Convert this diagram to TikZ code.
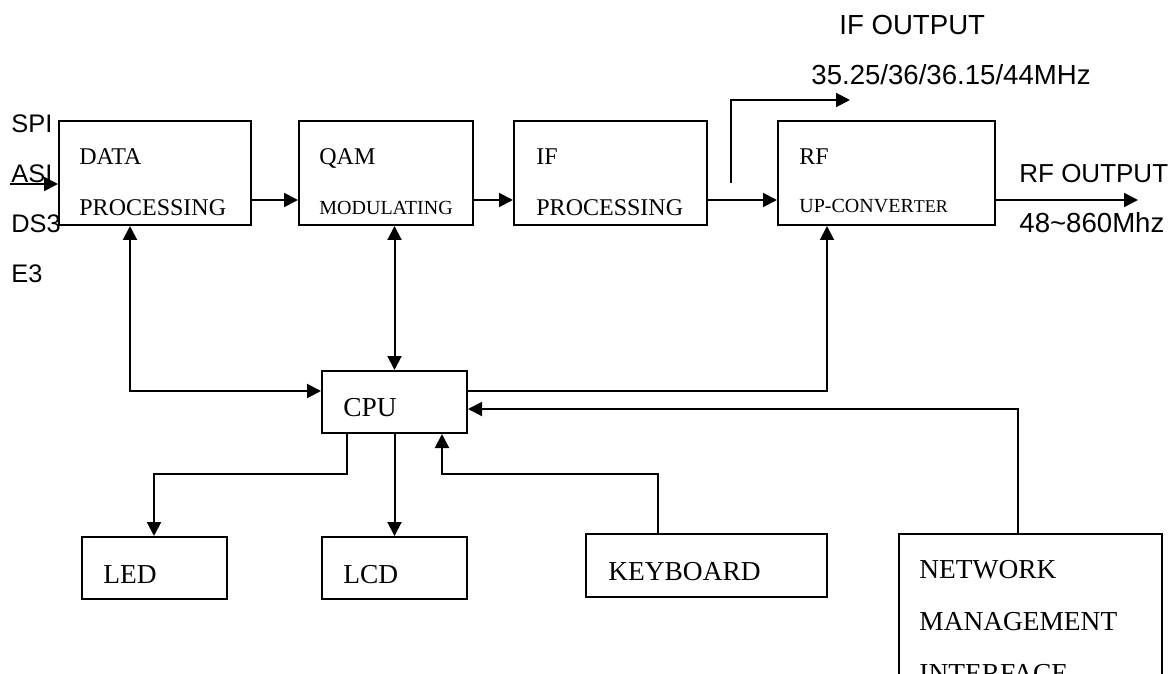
\documentclass[tikz,border=0pt]{standalone}
\usepackage{fontspec}
\setmainfont{Liberation Serif}
\newfontfamily\arialfont{Liberation Sans}
\usepackage{tikz}
\usetikzlibrary{fit}
\usetikzlibrary{arrows.meta}
\tikzstyle{Block}=[draw=black,line width=1pt,inner sep=0pt]
\tikzstyle{Edge}=[draw=black,line width=1pt,>={Triangle[length=7pt,width=7pt]}]
\tikzstyle{BlockText}=[anchor=base west,inner sep=0pt,
font=\fontsize{12}{14}\selectfont]
\tikzstyle{BlockTextS}=[anchor=base west,inner sep=0pt,
font=\fontsize{10}{12}\selectfont]
\tikzstyle{BlockTextL}=[anchor=base west,inner sep=0pt,
font=\fontsize{13.7}{16}\selectfont]
\tikzstyle{PortText}=[anchor=base west,inner sep=0pt,
font=\arialfont\fontsize{12.7}{15}\selectfont]
\tikzstyle{OutText}=[anchor=base west,inner sep=0pt,
font=\arialfont\fontsize{13.8}{16}\selectfont]
\begin{document}
\begin{tikzpicture}[x=0.5pt,y=-0.5pt]
            \useasboundingbox(0,0)rectangle(1174,674);
            \clip(0,0)rectangle(1174,674);
            % blocks
            \node[Block,fit={(59,121)(251,225)}](data){};
            \node[Block,fit={(299,121)(473,225)}](qam){};
            \node[Block,fit={(514,121)(707,225)}](ifp){};
            \node[Block,fit={(778,121)(995,225)}](rf){};
            \node[Block,fit={(322,371)(467,433)}](cpu){};
            \node[Block,fit={(82,537)(227,599)}](led){};
            \node[Block,fit={(322,537)(467,599)}](lcd){};
            \node[Block,fit={(586,534)(827,597)}](key){};
            \node[Block,fit={(899,534)(1162,720)}](net){};
            % texts in blocks
            \node[BlockText](dataA)at(79,165){DATA};
            \node[BlockText](dataB)at(79,215){PROCESSING};
            \node[BlockText](qamA)at(319,165){QAM};
            \node[BlockTextS](qamB)at(319,214){MODULATING};
            \node[BlockText](ifpA)at(536,165){IF};
            \node[BlockText](ifpB)at(536,215){PROCESSING};
            \node[BlockText](rfA)at(799,165){RF};
            \node[BlockTextS](rfB)at(799,213)
                {UP-CONVER{\fontsize{9}{11}\selectfont TER}};
            \node[BlockTextL](cpuA)at(343,416){CPU};
            \node[BlockTextL](ledA)at(103,583){LED};
            \node[BlockTextL](lcdA)at(343,583){LCD};
            \node[BlockTextL](keyA)at(608,580){KEYBOARD};
            \node[BlockTextL](netA)at(919,578){NETWORK};
            \node[BlockTextL](netB)at(919,630){MANAGEMENT};
            \node[BlockTextL](netC)at(919,682){INTERFACE};
            % port labels
            \node[PortText](spi)at(11,133){SPI};
            \node[PortText](asi)at(11,183){ASI};
            \node[PortText](ds3)at(11,233){DS3};
            \node[PortText](e3)at(11,283){E3};
            \node[OutText](ifoA)at(839,35){IF OUTPUT};
            \node[OutText](ifoB)at(811,85){35.25/36/36.15/44MHz};
            \node[OutText,font=\arialfont\fontsize{13}{15}\selectfont](rfoA)
                at(1019,183){RF OUTPUT};
            \node[OutText](rfoB)at(1019,233){48\textasciitilde860Mhz};
            % bends and free ends
            \coordinate(lane)at(0,200);
            \coordinate(in)at(10,184);
            \coordinate(ifa)at(731,183);
            \coordinate(ifb)at(731,100);
            \coordinate(ifc)at(850,100);
            \coordinate(rfo)at(1138,200);
            \coordinate(c1)at(130,391);
            \coordinate(c2)at(827,391);
            \coordinate(c3)at(1018,409);
            \coordinate(c4)at(658,474);
            \coordinate(c5)at(442,474);
            \coordinate(c6)at(347,474);
            \coordinate(c7)at(154,474);
            % signal path
            \draw[Edge,->](in)--(data.west |- in);
            \draw[Edge,->](data.east |- lane)--(qam.west |- lane);
            \draw[Edge,->](qam.east |- lane)--(ifp.west |- lane);
            \draw[Edge,->](ifp.east |- lane)--(rf.west |- lane);
            \draw[Edge,->](ifa)--(ifb)--(ifc);
            \draw[Edge,->](rf.east |- rfo)--(rfo);
            % control
            \draw[Edge,<->](data.south -| c1)--(c1)--(cpu.west |- c1);
            \draw[Edge,<->](qam.south -| cpu.north)--(cpu.north);
            \draw[Edge,->](cpu.east |- c2)--(c2)--(rf.south -| c2);
            \draw[Edge,->](net.north -| c3)--(c3)--(cpu.east |- c3);
            \draw[Edge,->](key.north -| c4)--(c4)--(c5)--(cpu.south -| c5);
            \draw[Edge,->](cpu.south -| c6)--(c6)--(c7)--(led.north -| c7);
            \draw[Edge,->](cpu.south)--(lcd.north);
        \end{tikzpicture}
\end{document}
